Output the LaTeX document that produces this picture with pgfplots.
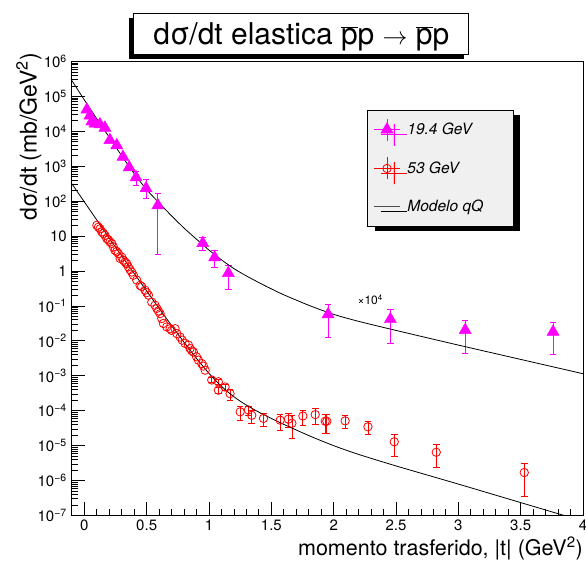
\documentclass[border=0pt]{standalone}
\usepackage{fontspec}
\setmainfont{TeX Gyre Heros}
\usepackage{pgfplots}
\pgfplotsset{compat=1.18}
\usepackage{pgfplotstable}
\usetikzlibrary{shadows}

\definecolor{rootmagenta}{RGB}{255,0,255}
\definecolor{rootred}{RGB}{255,0,0}
\definecolor{legfill}{RGB}{240,240,240}

% legend samples: horizontal line, vertical error bar and the marker
\pgfplotsset{
  legmagenta/.style={legend image code/.code={
    \draw[rootmagenta, line width=0.8pt] (0pt,0pt) -- (26pt,0pt) (13pt,-11pt) -- (13pt,11pt);
    \draw[##1] plot coordinates {(13pt,0pt)};}},
  legred/.style={legend image code/.code={
    \draw[rootred, line width=0.8pt] (0pt,0pt) -- (26pt,0pt) (13pt,-11pt) -- (13pt,11pt);
    \draw[##1] plot coordinates {(13pt,0pt)};}},
  legline/.style={legend image code/.code={
    \draw[black!70, line width=0.8pt] (0pt,0pt) -- (26pt,0pt);}},
}

% 19.4 GeV data (already multiplied by 10^4)
\pgfplotstableread{
x      y        ep      em
0.020  41700    0       0
0.045  28200    0       0
0.060  19100    0       0
0.085  16600    0       0
0.125  15800    0       0
0.165  12600    0       0
0.205  5620     0       0
0.260  3980     0       0
0.310  1860     0       0
0.360  933      0       0
0.415  479      250     200
0.495  234      200     117
0.590  75.9     90      73
0.950  6.31     3.0     2.4
1.045  2.45     1.44    1.16
1.155  0.871    0.59    0.57
1.955  0.0575   0.052   0.045
2.455  0.0417   0.039   0.033
3.055  0.0204   0.017   0.016
3.760  0.0182   0.016   0.014
}\tabA

% 53 GeV data, forward peak
\pgfplotstableread{
x      y
0.100  20.4
0.113  18.0
0.126  16.2
0.140  13.2
0.153  12.0
0.166  10.5
0.180  8.51
0.193  7.8
0.206  6.76
0.220  6.17
0.233  4.90
0.246  3.89
0.260  3.6
0.273  3.16
0.287  2.29
0.300  2.5
0.313  2.04
0.327  1.80
0.340  1.62
0.353  1.32
0.366  1.10
0.380  0.933
0.393  0.759
0.420  0.55
0.447  0.389
0.460  0.36
0.487  0.282
0.500  0.24
0.514  0.204
0.541  0.129
0.567  0.105
0.581  0.0851
0.594  0.072
0.608  0.0603
0.621  0.0437
0.634  0.0316
0.661  0.0251
0.688  0.0224
0.700  0.020
0.728  0.0224
0.742  0.0162
0.768  0.0129
0.785  0.0105
0.808  0.00851
0.835  0.00759
0.848  0.00603
0.862  0.0052
0.875  0.00479
0.900  0.0035
0.915  0.00282
0.942  0.00224
0.955  0.0019
0.969  0.00145
}\tabB

% 53 GeV data, dip and large |t|
\pgfplotstableread{
x      y         e
1.022  7.59e-4   1.2e-4
1.075  6.76e-4   1.1e-4
1.075  3.89e-4   8e-5
1.129  4.79e-4   1.0e-4
1.169  3.09e-4   1.1e-4
1.250  9.33e-5   4e-5
1.316  1.05e-4   3e-5
1.343  7.41e-5   3e-5
1.437  6.03e-5   2.5e-5
1.571  5.37e-5   2.6e-5
1.637  5.75e-5   2.5e-5
1.665  4.37e-5   2.8e-5
1.753  7.08e-5   3.4e-5
1.852  7.76e-5   3.7e-5
1.932  5.01e-5   2.7e-5
1.945  5.01e-5   2.7e-5
2.092  5.13e-5   2.1e-5
2.275  3.47e-5   1.4e-5
2.486  1.29e-5   8e-6
2.823  6.46e-6   4.1e-6
3.529  1.70e-6   1.35e-6
}\tabC

% qQ model, 19.4 GeV (x 10^4)
\pgfplotstableread{
x     y
-0.11 3.24e5
0.0   79430
0.1   22910
0.2   6761
0.3   1995
0.4   616.6
0.5   213.8
0.6   89.13
0.7   38.02
0.8   16.98
0.9   8.128
1.0   3.981
1.1   2.089
1.2   1.175
1.3   0.7244
1.4   0.4677
1.5   0.309
1.6   0.2089
1.8   0.1047
2.0   0.05754
2.2   0.03631
2.5   0.01995
3.0   0.007586
3.5   0.002951
4.0   0.001148
}\modA

% qQ model, 53 GeV
\pgfplotstableread{
x     y
-0.11 354.8
0.0   95.5
0.1   28.84
0.2   8.71
0.3   2.692
0.4   0.8511
0.5   0.2692
0.6   0.08511
0.7   0.02754
0.8   0.009120
0.9   0.003162
1.0   0.001175
1.1   5.012e-4
1.2   2.512e-4
1.3   1.445e-4
1.4   9.12e-5
1.5   6.026e-5
1.6   4.074e-5
1.8   1.950e-5
2.0   1.0e-5
2.2   5.623e-6
2.5   2.630e-6
3.0   7.943e-7
3.5   2.344e-7
4.0   6.918e-8
}\modB

\begin{document}
\begin{tikzpicture}[x=1pt,y=1pt]
\useasboundingbox (0,0) rectangle (586,563);

% title box
\node[draw=black, line width=1pt, fill=white, minimum width=335pt, minimum height=40.4pt,
      inner sep=0pt, general shadow={fill=black, shadow xshift=-4.5pt, shadow yshift=-4.5pt}]
  at (301.3,528.8) {};
\node[anchor=base, inner sep=0pt, font=\fontsize{30}{36}\selectfont]
  at (301.3,518) {dσ/dt elastica $\overline{\hbox{p}}$p $\rightarrow$ $\overline{\hbox{p}}$p};

\begin{axis}[
  at={(71pt,47.5pt)}, anchor=south west,
  scale only axis, width=512pt, height=454pt,
  xmin=-0.107, xmax=4,
  ymode=log, ymin=1e-7, ymax=1e6,
  axis line style={line width=0.8pt},
  every tick/.style={black, line width=0.8pt},
  tick align=inside, tick pos=left,
  major tick length=14pt, minor tick length=7pt,
  xtick={0,0.5,...,4}, minor x tick num=4,
  ytick={1e-7,1e-6,1e-5,1e-4,1e-3,1e-2,1e-1,1,10,100,1e3,1e4,1e5,1e6},
  yticklabels={10\textsuperscript{−7},10\textsuperscript{−6},10\textsuperscript{−5},10\textsuperscript{−4},
               10\textsuperscript{−3},10\textsuperscript{−2},10\textsuperscript{−1},1,10,
               10\textsuperscript{2},10\textsuperscript{3},10\textsuperscript{4},10\textsuperscript{5},10\textsuperscript{6}},
  minor ytick={
    2e-7,3e-7,4e-7,5e-7,6e-7,7e-7,8e-7,9e-7,
    2e-6,3e-6,4e-6,5e-6,6e-6,7e-6,8e-6,9e-6,
    2e-5,3e-5,4e-5,5e-5,6e-5,7e-5,8e-5,9e-5,
    2e-4,3e-4,4e-4,5e-4,6e-4,7e-4,8e-4,9e-4,
    2e-3,3e-3,4e-3,5e-3,6e-3,7e-3,8e-3,9e-3,
    2e-2,3e-2,4e-2,5e-2,6e-2,7e-2,8e-2,9e-2,
    0.2,0.3,0.4,0.5,0.6,0.7,0.8,0.9,
    2,3,4,5,6,7,8,9,
    20,30,40,50,60,70,80,90,
    200,300,400,500,600,700,800,900,
    2e3,3e3,4e3,5e3,6e3,7e3,8e3,9e3,
    2e4,3e4,4e4,5e4,6e4,7e4,8e4,9e4,
    2e5,3e5,4e5,5e5,6e5,7e5,8e5,9e5},
  /pgf/number format/assume math mode=true,
  ticklabel style={font=\fontsize{15}{15}\selectfont, inner sep=0pt},
  xticklabel style={yshift=-4pt},
  yticklabel style={xshift=-4pt},
  xlabel={momento trasferido, |t| (GeV\textsuperscript{2})},
  xlabel style={at={(axis description cs:1,-0.087)}, anchor=base east, inner sep=0pt,
                font=\fontsize{21.5}{24}\selectfont},
  ylabel={dσ/dt (mb/GeV\textsuperscript{2})},
  ylabel style={at={(axis description cs:-0.1074,1.0187)}, anchor=north east, inner sep=0pt,
                font=\fontsize{23}{26}\selectfont},
  legend style={at={(axis description cs:0.5787,0.8932)}, anchor=north west,
                draw=black, line width=0.6pt, fill=legfill,
                inner xsep=6pt, inner ysep=8pt, row sep=16pt,
                /tikz/every odd column/.append style={column sep=7pt},
                font=\fontsize{15.5}{17}\selectfont\itshape,
                nodes={inner sep=0pt, minimum height=22pt},
                general shadow={fill=black, shadow xshift=7pt, shadow yshift=-5pt}},
  legend cell align=left,
]

% 19.4 GeV
\addplot[only marks, mark=triangle*, mark size=7pt, color=rootmagenta, legmagenta,
  error bars/.cd, y dir=both, y explicit,
  error bar style={line width=0.8pt, rootmagenta},
  error mark options={rotate=90, mark size=3.3pt, line width=0.8pt, rootmagenta}]
  table[x=x, y=y, y error plus=ep, y error minus=em] {\tabA};
\addlegendentry{\makebox[100pt][l]{19.4 GeV}}

% 53 GeV, large |t| part with visible errors
\addplot[only marks, mark=o, mark size=4.2pt, color=rootred, line width=0.8pt,
  mark options={fill=white}, legred,
  error bars/.cd, y dir=both, y explicit,
  error bar style={line width=0.8pt, rootred},
  error mark options={rotate=90, mark size=3.3pt, line width=0.8pt, rootred}]
  table[x=x, y=y, y error=e] {\tabC};
\addlegendentry{\makebox[100pt][l]{53 GeV}}

% 53 GeV, forward peak
\addplot[only marks, mark=o, mark size=4.2pt, color=rootred, line width=0.8pt, forget plot]
  table[x=x, y=y] {\tabB};

% model curves
\addplot[black, line width=0.8pt, smooth, no marks, legline] table[x=x, y=y] {\modA};
\addlegendentry{\makebox[100pt][l]{Modelo qQ}}
\addplot[black, line width=0.8pt, smooth, no marks, forget plot] table[x=x, y=y] {\modB};

\node[font=\fontsize{12}{12}\selectfont, inner sep=0pt] at (axis cs:2.293,0.1486) {×10\textsuperscript{4}};
\end{axis}
\end{tikzpicture}
\end{document}
